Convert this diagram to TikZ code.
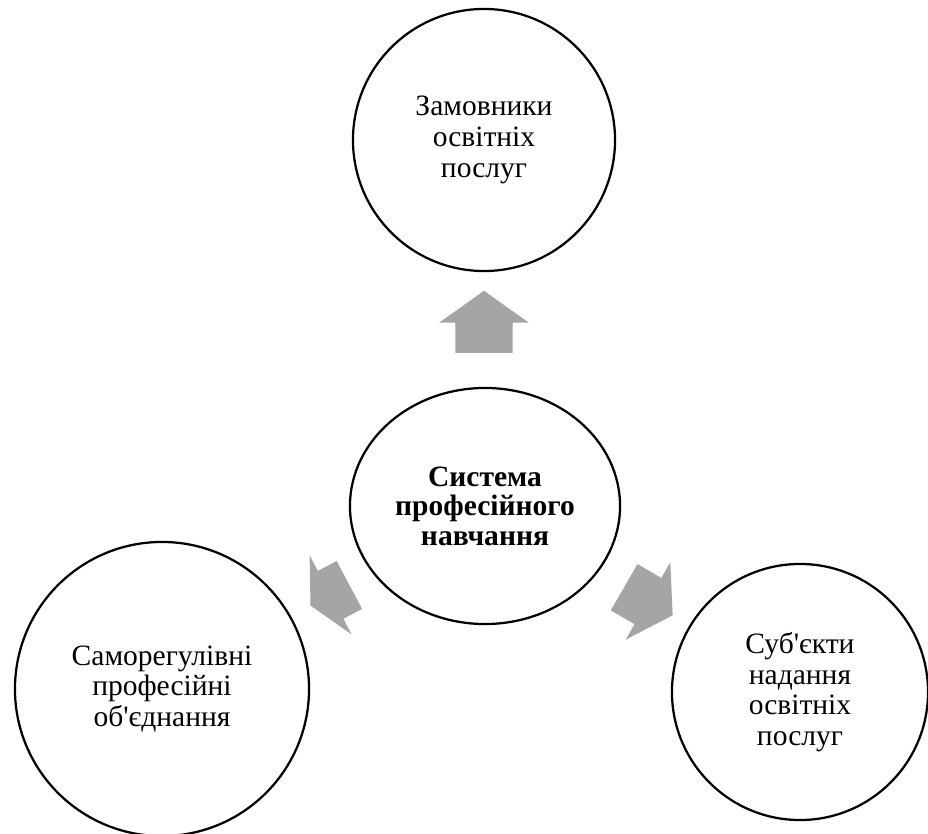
\documentclass[tikz,border=0pt]{standalone}
\usepackage{fontspec}
\setmainfont{Liberation Serif}[Ligatures=TeXOff]
\usepackage{tikz}
\usetikzlibrary{shapes.geometric}
\usetikzlibrary{positioning}
\usetikzlibrary{shapes.arrows}
\definecolor{arrgray}{RGB}{165,165,165}

\begin{document}
\begin{tikzpicture}[x=0.025cm, y=-0.025cm,
line width=1.6pt,
circ/.style={circle,draw,align=center,inner sep=0pt,font=\fontsize{21}{21.8}\selectfont},
core/.style={ellipse,draw,align=center,inner sep=0pt,minimum width=6.75cm,minimum height=5.9cm,font=\fontsize{21}{21}\selectfont\bfseries},
arr/.style={single arrow,fill=arrgray,draw=none,inner xsep=0pt,single arrow head indent=0pt}]
\useasboundingbox (0,0) rectangle (928,834);
\node [core] (sys) at (485,506) {Система\\професійного\\навчання};
\node [circ,minimum size=6.55cm] (cust) at (484,140) {Замовники\\освітніх\\послуг};
\node [circ,minimum size=7.35cm] (assoc) at (162,689) {Саморегулівні\\професійні\\об'єднання};
\node [circ,minimum size=6.4cm] (prov) at (800,692) {Суб'єкти\\надання\\освітніх\\послуг};
% block arrows between the circles
\node [arr,rotate=90,minimum height=1.55cm,inner ysep=.6875cm,single arrow head extend=.4cm,single arrow tip angle=109] (up) at (484,332) {};
\node [arr,rotate=208,minimum height=1.1cm,inner ysep=.65cm,single arrow head extend=.44cm,single arrow tip angle=126] (left) at (336,592) {};
\node [arr,rotate=-30,minimum height=1.4cm,inner ysep=.64cm,single arrow head extend=.45cm,single arrow tip angle=115] (right) at (641,597) {};
\end{tikzpicture}
\end{document}
